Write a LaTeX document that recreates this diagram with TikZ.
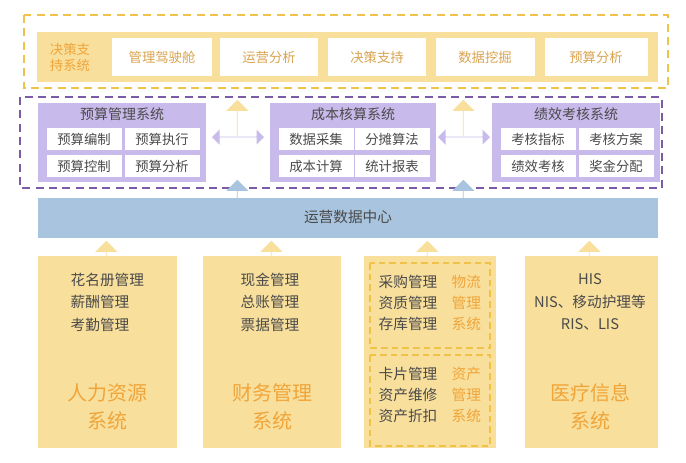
\documentclass[tikz,border=0pt]{standalone}
\usepackage{fontspec}
\setmainfont{Noto Sans CJK SC}
\usetikzlibrary{shapes.arrows}
\definecolor{yel}{HTML}{F8DF9C}
\definecolor{yeld}{HTML}{EFC24A}
\definecolor{pur}{HTML}{C9BAEC}
\definecolor{purd}{HTML}{7B5AA6}
\definecolor{blu}{HTML}{A8C4DE}
\definecolor{org}{HTML}{F0A53A}
\definecolor{txt}{HTML}{4A4A4A}
\definecolor{otx}{HTML}{D9A451}
\tikzset{
 wcell/.style={fill=white,draw=none,minimum width=#1*0.75pt,minimum height=22*0.75pt,inner sep=0pt,text=txt,font=\fontsize{10}{12}\selectfont},
 tcell/.style={fill=white,draw=none,minimum width=#1*0.75pt,minimum height=38*0.75pt,inner sep=0pt,text=otx,font=\fontsize{10}{12}\selectfont},
 uarrow/.style={single arrow,draw=none,shape border rotate=90,minimum width=22*0.75pt,single arrow head extend=7*0.75pt,single arrow head indent=0pt,inner sep=0pt,minimum height=#1*0.75pt},
 darrow/.style={double arrow,draw=none,fill=pur,minimum width=15*0.75pt,double arrow head extend=6*0.75pt,inner sep=0pt,minimum height=52*0.75pt},
 btxt/.style={text=txt,font=\fontsize{11}{15}\selectfont,align=left},
}
\begin{document}
\begin{tikzpicture}[x=0.75pt,y=-0.75pt]
\useasboundingbox[fill=white] (0,0) rectangle (686,462);
% decision support
\draw[yeld,dashed,line width=1.2pt,dash pattern=on 6pt off 4pt] (24,15) rectangle (668,88);
\fill[yel] (37,32) rectangle (658,82);
\node[text=org,align=left,font=\fontsize{10}{12}\selectfont] (dl) at (70,57) {决策支\\持系统};
\node[tcell=100] (d1) at (162,57) {管理驾驶舱};
\node[tcell=98] (d2) at (269,57) {运营分析};
\node[tcell=98] (d3) at (377,57) {决策支持};
\node[tcell=99] (d4) at (485,57) {数据挖掘};
\node[tcell=103] (d5) at (596,57) {预算分析};
% purple region
\draw[purd,dashed,line width=1.2pt,dash pattern=on 6pt off 4pt] (20,97) rectangle (662,188);
\foreach \n/\xa/\xb/\t/\a/\b/\c/\d in {p1/38/206/预算管理系统/预算编制/预算执行/预算控制/预算分析, p2/270/436/成本核算系统/数据采集/分摊算法/成本计算/统计报表, p3/492/660/绩效考核系统/考核指标/考核方案/绩效考核/奖金分配}{
 \fill[pur] (\xa,103) rectangle (\xb,182);
 \node[text=txt,font=\fontsize{10.5}{12}\selectfont] (\n t) at ({(\xa+\xb)/2},114) {\t};
 \node[wcell=75] (\n a) at ({\xa+46},139) {\a};
 \node[wcell=75] (\n b) at ({\xb-44},139) {\b};
 \node[wcell=75] (\n c) at ({\xa+46},166) {\c};
 \node[wcell=75] (\n d) at ({\xb-44},166) {\d};
}
\node[darrow] (da1) at (238,137) {};
\node[darrow] (da2) at (464,137) {};
% blue band
\fill[blu] (38,198) rectangle (658,238);
\node[text=txt,font=\fontsize{11}{13}\selectfont] (ops) at (348,217) {运营数据中心};
% arrows
\node[uarrow=36,fill=yel,anchor=east] (ua1) at (238,118) {};
\node[uarrow=36,fill=yel,anchor=east] (ua2) at (464,118) {};
\node[uarrow=36,fill=blu,anchor=east] (ba1) at (238,198) {};
\node[uarrow=36,fill=blu,anchor=east] (ba2) at (464,198) {};
\foreach \x in {107,272,428,590}{
 \node[uarrow=30,fill=yel,anchor=east] at (\x,256) {};
}
% bottom boxes
\fill[yel] (38,256) rectangle (177,448);
\fill[yel] (203,256) rectangle (341,448);
\fill[yel] (364,256) rectangle (496,448);
\fill[yel] (525,256) rectangle (658,448);
\node[btxt,anchor=north west,font=\fontsize{11}{17}\selectfont] (h1) at (66,268) {花名册管理\\薪酬管理\\考勤管理};
\node[text=org,font=\fontsize{15}{21}\selectfont,align=center] (h2) at (107,407) {人力资源\\系统};
\node[btxt,anchor=north west,font=\fontsize{11}{17}\selectfont] (f1) at (236,268) {现金管理\\总账管理\\票据管理};
\node[text=org,font=\fontsize{15}{21}\selectfont,align=center] (f2) at (272,407) {财务管理\\系统};
\draw[yeld,dashed,line width=1.1pt,dash pattern=on 5pt off 3pt] (370,263) rectangle (490,348);
\draw[yeld,dashed,line width=1.1pt,dash pattern=on 5pt off 3pt] (370,355) rectangle (490,446);
\node[btxt,anchor=north west,font=\fontsize{11}{16}\selectfont] (w1) at (374,270) {采购管理\\资质管理\\存库管理};
\node[text=org,anchor=north west,font=\fontsize{11}{16}\selectfont,align=left] (w2) at (447,270) {物流\\管理\\系统};
\node[btxt,anchor=north west,font=\fontsize{11}{16}\selectfont] (z1) at (374,362) {卡片管理\\资产维修\\资产折扣};
\node[text=org,anchor=north west,font=\fontsize{11}{16}\selectfont,align=left] (z2) at (447,362) {资产\\管理\\系统};
\node[text=txt,font=\fontsize{11}{17}\selectfont,align=center] (m1) at (590,302) {HIS\\NIS、移动护理等\\RIS、LIS};
\node[text=org,font=\fontsize{15}{21}\selectfont,align=center] (m2) at (590,407) {医疗信息\\系统};
\end{tikzpicture}
\end{document}
